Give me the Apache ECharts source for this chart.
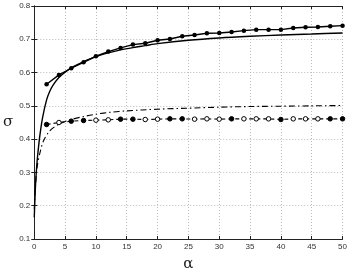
<!DOCTYPE html>
<html><head><meta charset="utf-8">
<script src="https://cdn.jsdelivr.net/npm/echarts@6/dist/echarts.min.js"></script>
<style>html,body{margin:0;padding:0;background:#fff}#c{width:350px;height:277px}</style>
</head><body><div id="c"></div>
<script>
// sampled alpha values for markers
var alphaMarkers = [2,4,6,8,10,12,14,16,18,20,22,24,26,28,30,32,34,36,38,40,42,44,46,48,50];
// solid line with filled markers
var sigmaUpperSim = [0.565,0.593,0.613,0.631,0.649,0.663,0.674,0.684,0.688,0.697,0.701,0.709,0.713,0.718,0.719,0.722,0.726,0.729,0.729,0.729,0.734,0.736,0.737,0.739,0.741];
// dashed line with circle markers
var sigmaLowerSim = [0.444,0.450,0.454,0.456,0.457,0.458,0.460,0.460,0.459,0.460,0.461,0.461,0.460,0.461,0.460,0.461,0.461,0.461,0.461,0.459,0.461,0.461,0.461,0.461,0.461];
var lowerFilled = [0,2,3,6,7,10,11,15,19,23,24];
// solid theoretical curve
var alphaUpperCurve = [0,0.1,0.2,0.4,0.6,0.9,1.35,2,2.5,3,4,5,6,7,8,10,12,14,16,18,20,25,30,35,40,45,50];
var sigmaUpperCurve = [0.165,0.215,0.26,0.32,0.36,0.41,0.465,0.518,0.543,0.561,0.585,0.601,0.614,0.624,0.633,0.648,0.659,0.668,0.675,0.681,0.687,0.697,0.704,0.709,0.713,0.716,0.719];
// dash-dot theoretical curve
var alphaLowerCurve = [0,0.2,0.5,1,1.5,2.3,3,4,5,6,8,10,12.5,15,20,25,30,35,40,45,50];
var sigmaLowerCurve = [0.19,0.26,0.32,0.365,0.395,0.42,0.433,0.445,0.453,0.459,0.468,0.475,0.481,0.485,0.490,0.493,0.496,0.498,0.499,0.500,0.501];
var xTicks = [0,5,10,15,20,25,30,35,40,45,50];
var yTicks = [0.1,0.2,0.3,0.4,0.5,0.6,0.7,0.8];

function pairs(xs, ys){ return xs.map(function(x,i){return [x, ys[i]];}); }
var lowerData = alphaMarkers.map(function(a,i){
  var filled = lowerFilled.indexOf(i) >= 0;
  return {value:[a, sigmaLowerSim[i]], itemStyle:{color: filled ? '#000' : '#fff', borderColor:'#000', borderWidth:1}};
});

var chart = echarts.init(document.getElementById('c'), null, {renderer:'canvas'});
var axisLbl = {color:'#333', fontSize:8, fontFamily:'Liberation Sans, Arial, sans-serif'};
chart.setOption({
  animation:false,
  backgroundColor:'#fff',
  grid:{left:32.5, right:7, top:6, bottom:26, containLabel:false},
  xAxis:[{
    type:'value', min:0, max:50, interval:5,
    name:'α', nameLocation:'middle', nameGap:18,
    nameTextStyle:{fontSize:15, color:'#222', fontFamily:'DejaVu Serif, serif'},
    axisLine:{show:true, lineStyle:{color:'#222', width:1}},
    axisTick:{show:true, inside:true, length:3, lineStyle:{color:'#222'}},
    axisLabel:Object.assign({margin:4, formatter:function(v){return xTicks.indexOf(v)>=0?String(v):'';}}, axisLbl),
    splitLine:{show:true, lineStyle:{type:[1,2], color:'#bbb', width:1}}
  },{
    type:'value', min:0, max:50, interval:5, position:'top',
    axisLine:{show:true, lineStyle:{color:'#222', width:1}},
    axisTick:{show:true, inside:true, length:3, lineStyle:{color:'#222'}},
    axisLabel:{show:false}, splitLine:{show:false}
  }],
  yAxis:[{
    type:'value', min:0.1, max:0.8, interval:0.1,
    name:'σ', nameLocation:'middle', nameGap:19, nameRotate:0,
    nameTextStyle:{fontSize:15, color:'#222', fontFamily:'DejaVu Serif, serif'},
    axisLine:{show:true, lineStyle:{color:'#222', width:1}},
    axisTick:{show:true, inside:true, length:3, lineStyle:{color:'#222'}},
    axisLabel:Object.assign({margin:4, formatter:function(v){return v.toFixed(1);}}, axisLbl),
    splitLine:{show:true, lineStyle:{type:[1,2], color:'#bbb', width:1}}
  },{
    type:'value', min:0.1, max:0.8, interval:0.1, position:'right',
    axisLine:{show:true, lineStyle:{color:'#222', width:1}},
    axisTick:{show:true, inside:true, length:3, lineStyle:{color:'#222'}},
    axisLabel:{show:false}, splitLine:{show:false}
  }],
  series:[
    {type:'line', data:pairs(alphaUpperCurve, sigmaUpperCurve), smooth:0.3, showSymbol:false,
     lineStyle:{color:'#000', width:1.4}, z:3},
    {type:'line', data:pairs(alphaLowerCurve, sigmaLowerCurve), smooth:0.3, showSymbol:false,
     lineStyle:{color:'#000', width:1.1, type:[6,3,1.5,3]}, z:3},
    {type:'line', data:pairs(alphaMarkers, sigmaUpperSim), symbol:'circle', symbolSize:4.5,
     lineStyle:{color:'#000', width:1.4}, itemStyle:{color:'#000'}, z:4},
    {type:'line', data:lowerData, symbol:'circle', symbolSize:4.5,
     lineStyle:{color:'#000', width:1.1, type:[4,3]}, z:4}
  ]
});
</script></body></html>
